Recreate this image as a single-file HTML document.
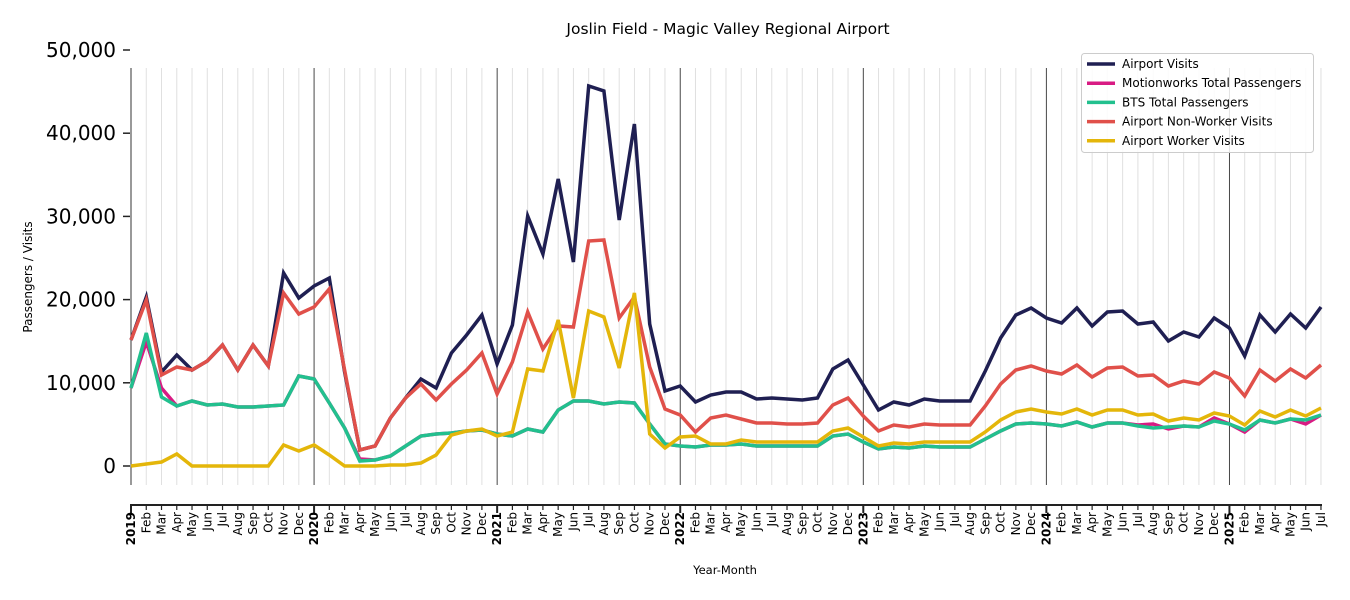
<!DOCTYPE html>
<html><head><meta charset="utf-8"><style>body{margin:0;background:#fff}svg{display:block;font-family:"DejaVu Sans","Liberation Sans",sans-serif}</style></head>
<body><svg id="s" width="1350" height="600" xmlns="http://www.w3.org/2000/svg"></svg>
<script>
const s=document.getElementById('s');
const X=i=>131+i*15.256;
let h='';
h+='<text x="728" y="34" font-size="15.5" text-anchor="middle">Joslin Field - Magic Valley Regional Airport</text>';
const mn=['Jan','Feb','Mar','Apr','May','Jun','Jul','Aug','Sep','Oct','Nov','Dec'];
for(let i=0;i<=78;i++){const x=X(i);const yr=i%12==0;
h+=`<line x1="${x}" y1="68" x2="${x}" y2="485" stroke="${yr?'#333':'#e0e0e0'}" stroke-width="${yr?0.9:1}"/>`;
h+=`<line x1="${x}" y1="505" x2="${x}" y2="${yr?513:510}" stroke="#222" stroke-width="${yr?2:1.2}"/>`;
const lab=yr?(2019+i/12):mn[i%12];
h+=`<text transform="translate(${x+4},512) rotate(-90)" font-size="12" text-anchor="end" ${yr?'font-weight="bold"':''}>${lab}</text>`;}
h+='<line x1="131" y1="68" x2="131" y2="485" stroke="#333" stroke-width="1"/>';
h+='<line x1="130" y1="505" x2="1322" y2="505" stroke="#222" stroke-width="2"/>';
for(let k=0;k<=5;k++){const y=466-k*83.2;h+=`<line x1="123" y1="${y}" x2="130" y2="${y}" stroke="#222" stroke-width="1.5"/><text x="116" y="${y+7}" font-size="20" text-anchor="end">${k?k*10+',000':'0'}</text>`;}
h+='<text transform="translate(32,277) rotate(-90)" font-size="12" text-anchor="middle">Passengers / Visits</text>';
h+='<text x="725" y="574" font-size="11.5" text-anchor="middle">Year-Month</text>';
const av=[340,297,372,355,370,361,345,370,345,366,273,298,286,278,372,450,446,418,398,379,388,353,335,315,364,325,216,254,179,262,86,91,220,124,324,391,386,402,395,392,392,399,398,399,400,398,369,360,385,410,402,405,399,401,401,401,371,338,315,308,318,323,308,326,312,311,324,322,341,332,337,318,328,356,315,332,314,328,307];
const nw=[340,300,375,367,370,361,345,370,345,366,293,314,307,289,370,450,446,418,398,384,400,384,370,353,394,362,312,349,326,327,241,240,318,297,367,409,415,432,418,415,419,423,423,424,424,423,405,398,416,431,425,427,424,425,425,425,406,384,370,366,371,374,365,377,368,367,376,375,386,381,384,372,378,396,370,381,369,378,365];
const wk=[466,464,462,454,466,466,466,466,466,466,445,451,445,455,466,466,466,465,465,463,455,435,431,429,436,432,369,371,320,398,311,317,368,293,434,448,437,436,444,444,440,442,442,442,442,442,431,428,437,446,443,444,442,442,442,442,432,420,412,409,412,414,409,415,410,410,415,414,421,418,420,413,416,425,411,417,410,416,408];
const bt=[388,333,397,406,401,405,404,407,407,406,405,376,379,403,428,461,460,456,446,436,434,433,431,430,434,436,429,432,410,401,401,404,402,403,424,444,446,447,445,445,444,446,446,446,446,446,436,434,442,449,447,448,446,447,447,447,439,431,424,423,424,426,422,427,423,423,426,428,427,426,427,421,424,430,420,423,419,420,415];
const mw=bt.slice();Object.assign(mw,{1:342,2:388,15:459,66:425,67:424,68:429,71:418,72:424,73:432,77:424});
const P=(a,c)=>`<polyline fill="none" stroke="${c}" stroke-width="3.5" stroke-linejoin="miter" points="${a.map((y,i)=>X(i).toFixed(1)+','+y).join(' ')}"/>`;
h+=P(av,'#1f1f52')+P(mw,'#d81b83')+P(bt,'#22c08e')+P(nw,'#e0504a')+P(wk,'#e4b60a');
h+='<rect x="1081.5" y="53.5" width="232" height="99" rx="3" fill="#fff" fill-opacity="0.85" stroke="#ccc"/>';
[['Airport Visits','#1f1f52'],['Motionworks Total Passengers','#d81b83'],['BTS Total Passengers','#22c08e'],['Airport Non-Worker Visits','#e0504a'],['Airport Worker Visits','#e4b60a']].forEach((e,i)=>{const y=64+i*19.2;h+=`<line x1="1087" y1="${y}" x2="1115" y2="${y}" stroke="${e[1]}" stroke-width="3.5"/><text x="1122" y="${y+4}" font-size="12">${e[0]}</text>`;});
s.innerHTML=h;
</script></body></html>
